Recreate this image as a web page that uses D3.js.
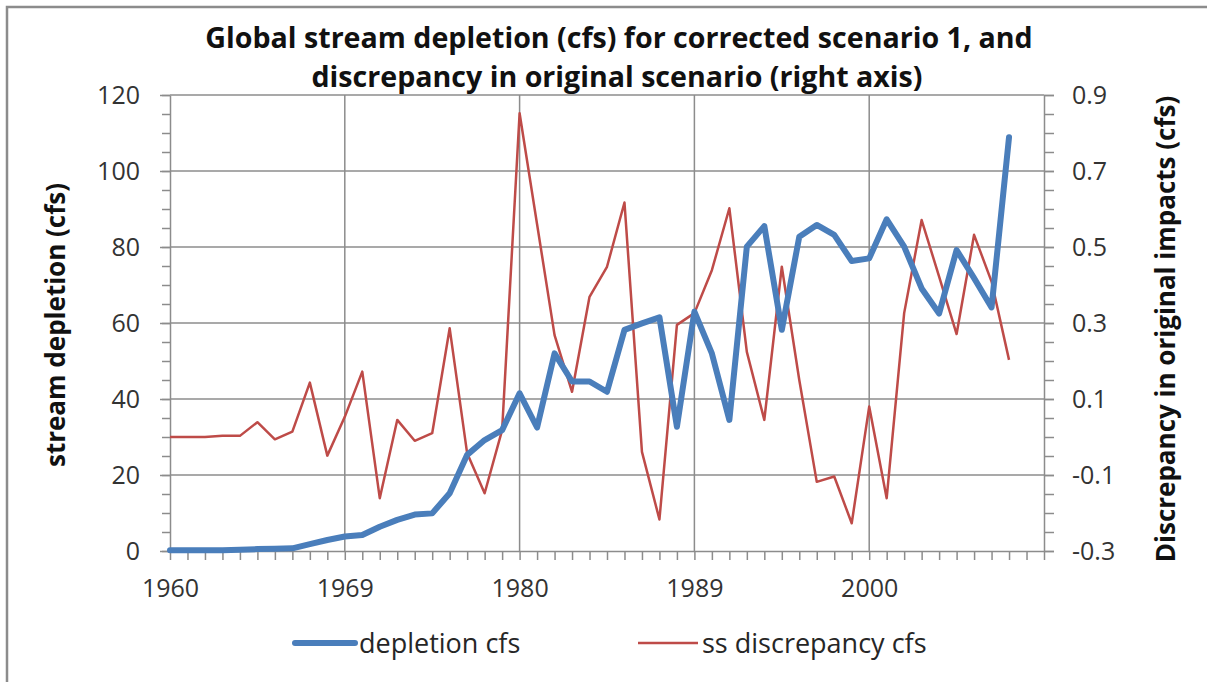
<!DOCTYPE html>
<html lang="en">
<head>
<meta charset="utf-8">
<title>stream depletion</title>
<script src="https://cdn.jsdelivr.net/npm/d3@7"></script>
<style>
  body { margin: 0; background: #fff; }
  svg text { font-family: "Open Sans", "DejaVu Sans", sans-serif; fill: #262626; }
  .grid line { stroke: #8c8c8c; stroke-width: 1.5px; }
  .axis path, .axis line { stroke: #8c8c8c; stroke-width: 1.5px; }
  .axis text { font-size: 25px; fill: #333; }
</style>
</head>
<body>
<svg width="1207" height="682"></svg>
<script>
// category slots along the x axis (51 slots, labelled every 10th)
var nSlots = 51;
var xLabelIdx = [0, 10, 20, 30, 40];
var xLabels = ["1960", "1969", "1980", "1989", "2000"];

// depletion cfs (left axis)
var depletion = [0.2, 0.2, 0.2, 0.2, 0.3, 0.5, 0.6, 0.7, 1.8, 2.9,
                 3.8, 4.2, 6.4, 8.2, 9.6, 9.9, 15.2, 25.3, 29.2, 31.8,
                 41.5, 32.5, 52.0, 44.6, 44.6, 41.9, 58.2, 59.9, 61.5, 32.7,
                 63.0, 52.0, 34.5, 80.1, 85.5, 58.2, 82.7, 85.8, 83.2, 76.3,
                 77.0, 87.3, 80.1, 69.1, 62.5, 79.2, 71.8, 64.1, 108.9];

// ss discrepancy cfs (right axis)
var discrepancy = [0.0, 0.0, 0.0, 0.003, 0.003, 0.039, -0.006, 0.014, 0.143, -0.049,
                   0.053, 0.172, -0.161, 0.045, -0.01, 0.01, 0.286, -0.043, -0.148, 0.018,
                   0.852, 0.56, 0.268, 0.119, 0.369, 0.448, 0.617, -0.039, -0.217, 0.295,
                   0.326, 0.439, 0.602, 0.224, 0.045, 0.448, 0.15, -0.118, -0.104, -0.227,
                   0.08, -0.161, 0.326, 0.571, 0.422, 0.271, 0.532, 0.409, 0.203];

var leftTicks = [0, 20, 40, 60, 80, 100, 120];
var rightTicks = [-0.3, -0.1, 0.1, 0.3, 0.5, 0.7, 0.9];

var title1 = "Global stream depletion (cfs) for corrected scenario 1, and";
var title2 = "discrepancy in original scenario (right axis)";

var blue = "#4a7ebb", red = "#be4b48";

var svg = d3.select("svg");
var L = 170, R = 1044, T = 95, B = 551;

var x = d3.scaleLinear().domain([0, nSlots - 1]).range([L, R]);
var yL = d3.scaleLinear().domain([0, 120]).range([B, T]);
var yR = d3.scaleLinear().domain([-0.3, 0.9]).range([B, T]);

// chart frame
svg.append("rect").attr("x", 7).attr("y", 7).attr("width", 1220).attr("height", 700)
   .attr("fill", "none").attr("stroke", "#8c8c8c").attr("stroke-width", 2.5);

// grid
var grid = svg.append("g").attr("class", "grid");
grid.selectAll("line.h").data(leftTicks.slice(1)).enter().append("line")
    .attr("x1", L).attr("x2", R)
    .attr("y1", function(d) { return yL(d); }).attr("y2", function(d) { return yL(d); });
grid.selectAll("line.v").data(xLabelIdx.slice(1)).enter().append("line")
    .attr("x1", function(d) { return x(d); }).attr("x2", function(d) { return x(d); })
    .attr("y1", T).attr("y2", B);

// left axis (minor + major)
svg.append("g").attr("class", "axis").attr("transform", "translate(" + L + ",0)")
   .call(d3.axisLeft(yL).tickValues(d3.range(0, 121, 5)).tickSize(8).tickFormat(""))
   .call(function(g) { g.select(".domain").remove(); });
svg.append("g").attr("class", "axis").attr("transform", "translate(" + L + ",0)")
   .call(d3.axisLeft(yL).tickValues(leftTicks).tickSize(10).tickPadding(20).tickSizeOuter(0));

// right axis
svg.append("g").attr("class", "axis").attr("transform", "translate(" + R + ",0)")
   .call(d3.axisRight(yR).tickValues(d3.range(-0.3, 0.91, 0.05)).tickSize(10).tickFormat(""))
   .call(function(g) { g.select(".domain").remove(); });
svg.append("g").attr("class", "axis").attr("transform", "translate(" + R + ",0)")
   .call(d3.axisRight(yR).tickValues(rightTicks).tickSize(10).tickPadding(18).tickSizeOuter(0)
         .tickFormat(function(d) { return d.toFixed(1); }));

// bottom axis
var lab = {};
xLabelIdx.forEach(function(d, i) { lab[d] = xLabels[i]; });
svg.append("g").attr("class", "axis").attr("transform", "translate(0," + B + ")")
   .call(d3.axisBottom(x).tickValues(d3.range(0, nSlots)).tickSize(9).tickPadding(19).tickSizeOuter(0)
         .tickFormat(function(d) { return lab[d] || ""; }));

// series
var blueLine = d3.line().x(function(d, i) { return x(i); }).y(function(d) { return yL(d); });
var redLine = d3.line().x(function(d, i) { return x(i); }).y(function(d) { return yR(d); });

svg.append("path").datum(discrepancy).attr("d", redLine)
   .attr("fill", "none").attr("stroke", red).attr("stroke-width", 2.5).attr("stroke-linejoin", "round");
svg.append("path").datum(depletion).attr("d", blueLine)
   .attr("fill", "none").attr("stroke", blue).attr("stroke-width", 6)
   .attr("stroke-linejoin", "round").attr("stroke-linecap", "round");

// title
svg.append("text").attr("x", 619).attr("y", 48).attr("text-anchor", "middle")
   .style("font-size", "28.6px").style("font-weight", "bold").style("fill", "#111").text(title1);
svg.append("text").attr("x", 617).attr("y", 87).attr("text-anchor", "middle")
   .style("font-size", "28.6px").style("font-weight", "bold").style("fill", "#111").text(title2);

// axis titles
svg.append("text").attr("transform", "translate(65,325) rotate(-90)").attr("text-anchor", "middle")
   .style("font-size", "26px").style("font-weight", "bold").style("fill", "#111").text("stream depletion (cfs)");
svg.append("text").attr("transform", "translate(1175,329) rotate(-90)").attr("text-anchor", "middle")
   .style("font-size", "26px").style("font-weight", "bold").style("fill", "#111").text("Discrepancy in original impacts (cfs)");

// legend
var legend = [{name: "depletion cfs", color: blue, w: 6, x0: 295},
              {name: "ss discrepancy cfs", color: red, w: 2.5, x0: 638}];
var lg = svg.selectAll("g.legend").data(legend).enter().append("g").attr("class", "legend");
lg.append("line").attr("x1", function(d) { return d.x0; }).attr("x2", function(d) { return d.x0 + 60; })
  .attr("y1", 643).attr("y2", 643)
  .attr("stroke", function(d) { return d.color; }).attr("stroke-width", function(d) { return d.w; })
  .attr("stroke-linecap", function(d) { return d.w > 4 ? "round" : "butt"; });
lg.append("text").attr("x", function(d) { return d.x0 + 64; }).attr("y", 653)
  .style("font-size", "27px").text(function(d) { return d.name; });
</script>
</body>
</html>
